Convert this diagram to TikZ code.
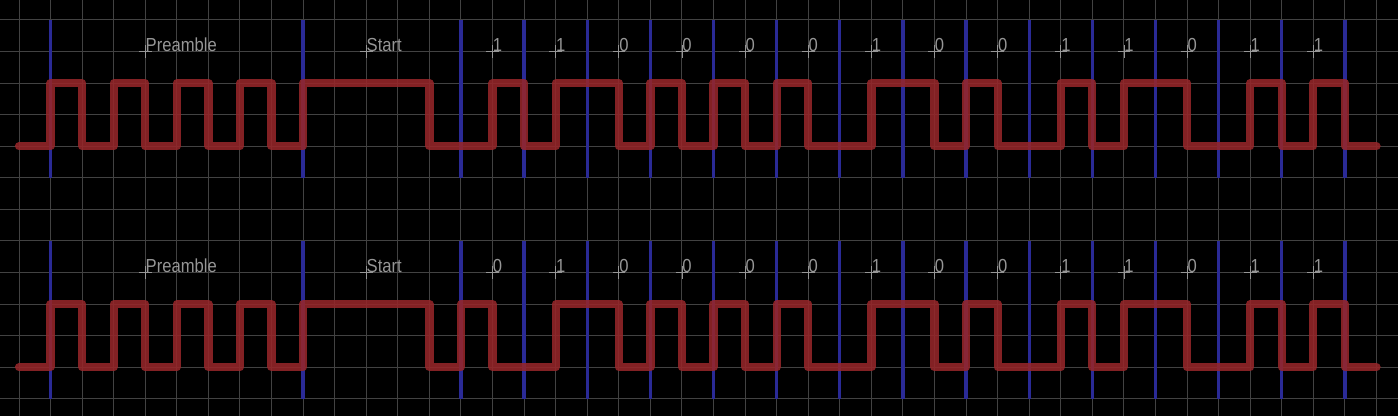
\documentclass[tikz,border=0pt]{standalone}
\usepackage{fontspec}
\newfontfamily\lblfont[FakeStretch=0.88]{Liberation Sans}
\definecolor{gridc}{RGB}{66,66,66}
\definecolor{sigred}{RGB}{150,38,42}
\definecolor{bitblue}{RGB}{42,42,150}
\definecolor{txtgray}{RGB}{150,150,150}
\tikzset{
  gridline/.style={draw=gridc, line width=0.45pt},
  bitline/.style={draw=bitblue, line width=1.5pt},
  signal/.style={draw=sigred, line width=3.7pt, line cap=round, line join=round, draw opacity=0.88},
  lbl/.style={anchor=base west, inner sep=0pt, text=txtgray, font=\lblfont\fontsize{8.5}{10}\selectfont},
  crossmark/.style={draw=txtgray, line width=0.4pt},
}
\begin{document}
\begin{tikzpicture}[x=0.5cm, y=-0.5cm]
  \fill[black] (-0.6018,-0.6335) rectangle (43.681,12.543);
  \useasboundingbox (-0.6018,-0.6335) rectangle (43.681,12.543);
  % grid
  \foreach \k in {0,...,43} { \draw[gridline] (\k,-0.6335) -- (\k,12.543); }
  \foreach \j in {0,...,12} { \draw[gridline] (-0.6018,\j) -- (43.681,\j); }
  % blue bit boundaries
  \foreach \dy in {0,7} {
    \foreach \k in {1,9,14,16,...,42} { \draw[bitline] (\k,0+\dy) -- (\k,5+\dy); }
  }
  % labels and crosses
  \foreach \dy/\r in {0/a,7/b} {
    \draw[crossmark] (3.8,1+\dy) -- (4.2,1+\dy) (4,0.8+\dy) -- (4,1.2+\dy);
    \node[lbl] (pre\r) at (4,1+\dy) {Preamble};
    \draw[crossmark] (10.8,1+\dy) -- (11.2,1+\dy) (11,0.8+\dy) -- (11,1.2+\dy);
    \node[lbl] (start\r) at (11,1+\dy) {Start};
  }
  \foreach \b [count=\i] in {1,1,0,0,0,0,1,0,0,1,1,0,1,1} {
    \draw[crossmark] ({13+2*\i-0.2},1) -- ({13+2*\i+0.2},1) ({13+2*\i},0.8) -- ({13+2*\i},1.2);
    \node[lbl] (ta\i) at ({13+2*\i},1) {\b};
  }
  \foreach \b [count=\i] in {0,1,0,0,0,0,1,0,0,1,1,0,1,1} {
    \draw[crossmark] ({13+2*\i-0.2},8) -- ({13+2*\i+0.2},8) ({13+2*\i},7.8) -- ({13+2*\i},8.2);
    \node[lbl] (tb\i) at ({13+2*\i},8) {\b};
  }
  % signals
  \draw[signal] (0,4) -| (1,2) -| (2,4) -| (3,2) -| (4,4) -| (5,2) -| (6,4) -| (7,2) -| (8,4) -| (9,2)
    -| (13,4) -| (15,2) -| (16,4) -| (17,2) -| (19,4) -| (20,2) -| (21,4) -| (22,2) -| (23,4) -| (24,2)
    -| (25,4) -| (27,2) -| (29,4) -| (30,2) -| (31,4) -| (33,2) -| (34,4) -| (35,2) -| (37,4) -| (39,2)
    -| (40,4) -| (41,2) -| (42,4) -- (43,4);
  \draw[signal] (0,11) -| (1,9) -| (2,11) -| (3,9) -| (4,11) -| (5,9) -| (6,11) -| (7,9) -| (8,11) -| (9,9)
    -| (13,11) -| (14,9) -| (15,11) -| (17,9) -| (19,11) -| (20,9) -| (21,11) -| (22,9) -| (23,11) -| (24,9)
    -| (25,11) -| (27,9) -| (29,11) -| (30,9) -| (31,11) -| (33,9) -| (34,11) -| (35,9) -| (37,11) -| (39,9)
    -| (40,11) -| (41,9) -| (42,11) -- (43,11);
\end{tikzpicture}
\end{document}
